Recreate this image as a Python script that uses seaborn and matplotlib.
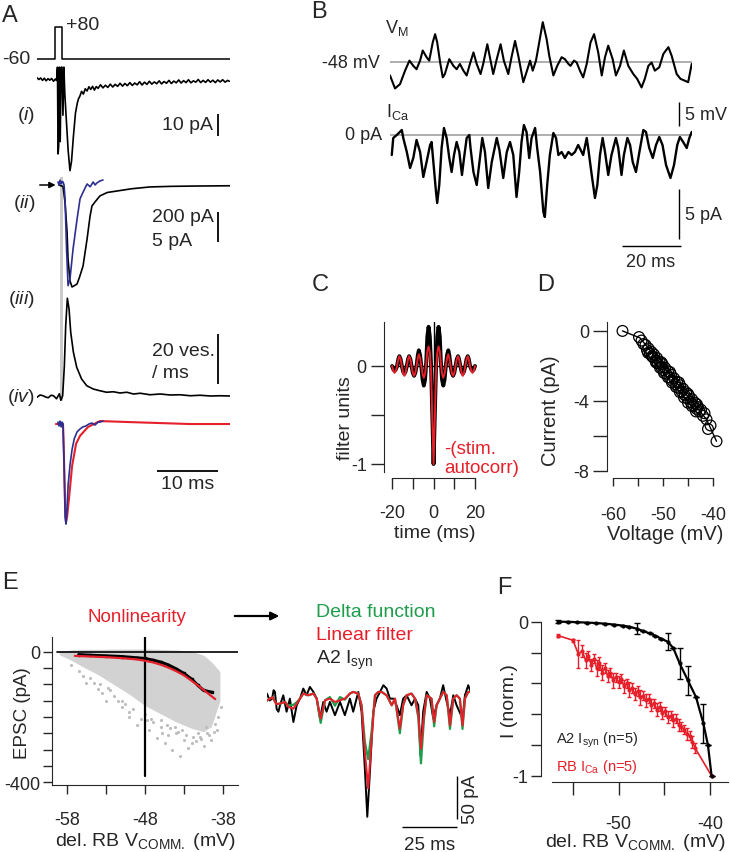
import matplotlib
matplotlib.use("Agg")
import matplotlib.pyplot as plt
import seaborn as sns

# --- Panel A: voltage step and responses (time in ms) ---
stim_t = [0.0, 3.0, 3.0, 4.1, 4.1, 31.6]
stim_mv = [-60, -60, 80, 80, -60, -60]

a1_t = [0.0, 0.3, 0.6, 0.9, 1.2, 1.5, 1.8, 2.1, 2.4, 2.7, 3.0, 3.2,
        3.35, 3.45, 3.55, 3.65, 3.8, 3.95, 4.1, 4.25, 4.4, 4.55,
        4.8, 5.1, 5.4, 5.65, 5.95, 6.3, 6.6, 6.8,
        7.0, 7.3, 7.6, 7.9, 8.2, 8.5, 8.8, 9.1, 9.4, 9.7, 10.0, 10.4, 10.8, 11.2, 11.6,
        12.0, 12.4, 12.8, 13.2, 13.6, 14.0, 14.4, 14.8, 15.2, 15.6, 16.0, 16.4, 16.8,
        17.2, 17.6, 18.0, 18.4, 18.8, 19.2, 19.6, 20.0, 20.4, 20.8, 21.2, 21.6, 22.0,
        22.4, 22.8, 23.2, 23.6, 24.0, 24.4, 24.8, 25.2, 25.6, 26.0, 26.4, 26.8, 27.2,
        27.6, 28.0, 28.4, 28.8, 29.2, 29.6, 30.0, 30.4, 30.8, 31.2, 31.5]
a1_pa = [1.0, 0.2, 0.9, -0.2, 0.8, -0.4, 0.6, -0.1, 0.7, -0.6, 0.4, -0.2,
         5.8, -33.6, -30, 5.8, -28, 5.8, 5.8, -16, 5.8, -6,
         -18, -32, -41.2, -37, -26, -15, -10.5, -8.5,
         -7.5, -5.2, -6.4, -4.0, -5.0, -3.1, -4.3, -2.9, -4.6, -3.0, -3.8, -2.2, -3.6, -2.4, -3.4,
         -1.9, -3.2, -2.0, -2.9, -1.5, -2.8, -1.6, -2.6, -1.2, -2.5, -1.4, -2.2, -0.8,
         -2.3, -1.0, -2.0, -0.6, -1.9, -0.9, -1.7, -0.4, -1.8, -0.7, -1.5, -0.2, -1.6,
         -0.5, -1.3, 0.0, -1.4, -0.3, -1.2, 0.1, -1.3, -0.4, -1.0, 0.2, -1.2, -0.2,
         -1.1, 0.1, -1.0, -0.1, -1.2, 0.0, -0.9, 0.1, -1.0, -0.2, -0.6]

a2_t = [3.6, 4.26, 4.6, 4.92, 5.08, 5.4, 5.74, 6.1, 6.56, 7.0, 7.54, 8.2, 8.69,
        9.0, 9.5, 10.3, 11.5, 13.1, 15.5, 18.5, 22.0, 26.0, 31.6]
a2_pa = [0, -10, -120, -313, -493, -640, -680, -672, -660, -610, -540, -360, -207,
         -140, -113, -73, -50, -40, -25, -13, -9, -7, -5]
a2b_t = [3.44, 3.6, 3.77, 3.95, 4.1, 4.26, 4.43, 4.59, 4.84, 5.08, 5.4, 5.9, 6.56,
         7.05, 7.54, 8.2, 8.7, 9.2, 9.5, 9.8, 10.3, 10.8]
a2b_pa = [0.5, 0.0, 0.8, 0.2, 0.6, 0.5, 0.0, -2.3, -10.7, -16.8, -15.7, -10.7, -5.7,
          -2.3, -1.2, 0.17, -0.3, 0.5, 0.0, 0.33, 0.67, 0.83]

a3_t = [0.0, 0.5, 1.0, 1.4, 1.85, 2.3, 2.7, 3.2, 3.66, 3.9, 4.2, 4.48, 4.7, 4.97,
        5.25, 5.52, 5.96, 6.5, 7.3, 8.15, 9.2, 10.3, 11.4, 12.5, 13.6, 14.7, 15.8,
        16.9, 18.5, 20.2, 21.8, 23.4, 25.1, 26.7, 28.4, 30.0, 31.6]
a3_ves = [-0.5, 0.4, 0.1, -0.4, -0.7, 0.3, 0.1, -1.1, 0.9, -1.7, 0.1, 12.1, 28.1, 39.1,
          34.8, 25.5, 17.5, 11.5, 6.8, 4.1, 2.8, 2.1, 1.5, 1.7, 1.2, 1.5, 0.8,
          1.1, 0.5, 0.8, 0.4, 0.5, 0.1, 0.3, 0.0, 0.1, 0.0]

a4_t = [3.1, 4.26, 4.4, 4.6, 4.75, 4.92, 5.3, 5.74, 6.4, 7.05, 8.36, 10.3, 15.0, 20.0, 25.0, 31.6]
a4_red = [0, 0, -0.3, -0.8, -1.0, -0.95, -0.72, -0.43, -0.2, -0.12, -0.03, 0.03, 0.02, 0.01, 0.0, 0.0]
a4b_t = [3.44, 3.6, 3.77, 3.95, 4.1, 4.26, 4.43, 4.6, 4.75, 4.92, 5.1, 5.4, 5.74, 6.1,
         6.56, 7.05, 7.5, 8.0, 8.5, 9.0, 9.5, 10.0, 10.3, 10.8]
a4_blue = [0.02, -0.02, 0.03, -0.03, 0.02, 0.0, -0.4, -0.95, -1.02, -0.85, -0.62, -0.42,
           -0.26, -0.15, -0.08, -0.05, -0.03, -0.02, 0.0, 0.01, -0.01, 0.02, 0.02, 0.03]

# --- Panel B: membrane voltage and calcium current ---
b_vm_t = [0, 1.7, 3.4, 5.1, 6.6, 7.9, 9.0, 10.2, 11.1, 12.4,
          13.3, 14.5, 15.3, 16.0, 17.0, 17.9, 18.6, 20.1, 21.5, 22.6,
          23.7, 24.9, 26.0, 27.1, 28.3, 29.4, 30.7, 31.6, 33.0, 34.1,
          35.0, 36.2, 37.5, 38.6, 40.1, 41.2, 42.4, 43.5, 45.2, 46.6,
          47.5, 48.4, 49.5, 50.6, 51.8, 53.1, 54.0, 55.4, 56.7, 58.2,
          59.3, 60.5, 61.2, 62.4, 63.3, 64.4, 65.5, 66.7, 68.0, 69.2,
          70.6, 71.8, 72.9, 74.0, 75.5, 76.6, 78.0, 79.3, 80.8, 82.5,
          83.8, 85.3, 86.4, 87.6, 88.7, 89.8, 91.3, 92.7, 94.4, 95.5,
          97.2, 98.5, 100.0, 101.1, 102.3]
b_vm = [-50.8, -53.5, -52.6, -49.8, -47.7, -48.8, -49.5, -47.7, -45.6, -47.0,
        -47.7, -43.9, -42.2, -43.9, -48.1, -51.2, -50.5, -47.4, -48.8, -49.5,
        -48.4, -49.8, -50.8, -48.4, -46.0, -48.4, -50.5, -48.4, -44.3, -47.7,
        -50.5, -47.4, -44.3, -47.7, -50.5, -47.0, -43.6, -46.7, -52.2, -49.5,
        -47.7, -49.8, -47.7, -43.9, -39.7, -43.2, -46.7, -50.8, -48.8, -47.0,
        -47.4, -48.4, -48.8, -47.7, -48.1, -49.8, -51.2, -48.4, -43.9, -42.2,
        -46.0, -50.8, -47.0, -44.6, -47.4, -50.8, -48.8, -45.6, -48.8, -50.5,
        -51.5, -53.3, -51.5, -48.8, -48.1, -49.8, -49.1, -46.3, -44.9, -46.7,
        -50.5, -51.5, -51.9, -52.2, -48.4]
b_ica_t = [0.6, 1.1, 2.3, 4.0, 4.5, 5.7, 6.8, 7.9, 9.0, 10.2,
           11.3, 12.4, 13.6, 14.1, 14.7, 15.6, 16.0, 16.7, 17.5, 18.3,
           19.2, 20.1, 20.9, 21.7, 22.6, 23.5, 24.4, 25.1, 26.0, 26.9,
           27.3, 28.3, 29.4, 30.5, 31.3, 32.2, 33.3, 34.5, 36.2, 37.1,
           38.4, 39.6, 40.7, 41.8, 42.9, 43.8, 44.6, 45.4, 46.3, 47.2,
           48.0, 49.2, 49.9, 50.9, 52.0, 52.5, 53.3, 54.2, 55.4, 56.3,
           57.1, 58.2, 59.3, 60.5, 61.6, 62.7, 63.8, 65.5, 66.7, 67.2,
           68.4, 69.5, 70.3, 71.2, 72.1, 72.9, 74.0, 75.1, 76.6, 77.4,
           78.5, 79.3, 80.5, 81.4, 82.3, 83.4, 84.8, 85.9, 86.8, 87.9,
           89.1, 90.2, 91.3, 92.4, 93.6, 95.1, 96.3, 97.4, 98.3, 99.4,
           100.6, 101.5, 102.3]
b_ica = [-2.0, -0.3, 0.0, 0.5, -0.3, -1.7, -3.3, -2.3, -0.5, -1.7,
         -4.2, -2.7, -1.0, -0.7, -2.7, -5.7, -6.8, -5.0, -1.3, 0.7,
         -0.3, -2.3, -3.7, -2.0, -0.7, -1.7, -4.0, -2.3, -0.3, 0.0,
         -1.3, -3.7, -5.0, -2.3, -0.3, -1.7, -5.3, -2.7, -0.3, -1.5,
         -4.3, -1.7, -0.7, -2.0, -6.2, -3.7, -0.7, 1.0, 0.3, -2.3,
         -0.3, 0.7, -1.3, -3.7, -7.7, -8.2, -5.0, -2.0, 0.2, -0.3,
         -2.0, -1.7, -2.3, -1.7, -2.0, -1.7, -1.0, -2.0, -0.3, -1.3,
         -4.0, -6.3, -5.0, -2.0, -0.3, -1.7, -4.0, -2.0, -0.3, -1.3,
         -4.0, -2.0, -0.3, -1.0, -2.7, -3.7, -1.3, 0.5, 0.3, -1.3,
         -2.3, -1.0, -0.2, -1.0, -3.0, -4.3, -3.0, -1.0, -0.2, -0.7,
         -1.3, -0.3, 0.3]

# --- Panel C: linear filter vs. stimulus autocorrelation ---
c_t = [-20, -19.4, -18.8, -18.2, -17.6, -17.0, -16.5, -15.9, -15.3, -14.7, -14.1, -13.5,
       -12.9, -12.3, -11.8, -11.2, -10.6, -10.0, -9.4, -8.8, -8.2, -7.6, -7.1, -6.5,
       -5.9, -5.3, -4.7, -4.1, -3.5, -3.0, -2.4, -1.8, -1.2, -0.6, 0,
       0.6, 1.2, 1.8, 2.4, 3.0, 3.5, 4.1, 4.7, 5.3, 5.9, 6.5, 7.1, 7.6, 8.2, 8.8, 9.4,
       10.0, 10.6, 11.2, 11.8, 12.3, 12.9, 13.5, 14.1, 14.7, 15.3, 15.9, 16.5, 17.0,
       17.6, 18.2, 18.8, 19.4, 20]
c_filter = [0, -0.035, -0.05, -0.035, 0, 0.07, 0.1, 0.07, 0, -0.056, -0.08, -0.056,
            0, 0.07, 0.1, 0.07, 0, -0.07, -0.1, -0.07, 0, 0.11, 0.16, 0.11,
            0, -0.14, -0.2, -0.14, 0.05, 0.3, 0.4, 0.3, 0.0, -0.5, -1.0,
            -0.5, 0.0, 0.3, 0.4, 0.3, 0.05, -0.14, -0.2, -0.14, 0, 0.11, 0.16, 0.11, 0, -0.07, -0.1,
            -0.07, 0, 0.07, 0.1, 0.07, 0, -0.056, -0.08, -0.056, 0, 0.07, 0.1, 0.07,
            0, -0.035, -0.05, -0.035, 0]
c_autocorr = [0, -0.05, -0.07, -0.05, 0, 0.07, 0.1, 0.07, 0, -0.07, -0.1, -0.07,
              0, 0.07, 0.1, 0.07, 0, -0.07, -0.1, -0.07, 0, 0.08, 0.12, 0.08,
              0, -0.08, -0.12, -0.08, 0.03, 0.15, 0.2, 0.14, -0.05, -0.55, -1.0,
              -0.55, -0.05, 0.14, 0.2, 0.15, 0.03, -0.08, -0.12, -0.08, 0, 0.08, 0.12, 0.08, 0, -0.07, -0.1,
              -0.07, 0, 0.07, 0.1, 0.07, 0, -0.07, -0.1, -0.07, 0, 0.07, 0.1, 0.07,
              0, -0.05, -0.07, -0.05, 0]

# --- Panel D: I-V relation ---
d_v = [-58.1, -54.8, -54.3, -53.9, -53.5, -53.2, -52.9, -52.6, -52.3, -52.0, -51.8, -51.5,
       -51.2, -51.0, -50.7, -50.4, -50.1, -49.9, -49.6, -49.3, -49.0, -48.7, -48.4, -48.1,
       -47.8, -47.5, -47.2, -46.9, -46.6, -46.3, -46.0, -45.7, -45.4, -45.1, -44.8, -44.5,
       -44.2, -43.9, -43.6, -43.3, -43.0, -42.7, -42.4, -42.0, -41.7, -41.3, -41.0, -40.5,
       -39.3, -53.0, -52.2, -51.4, -50.6, -49.8, -49.0, -48.2, -47.4, -46.6, -45.8, -45.0,
       -44.2, -43.4, -50.3, -48.6, -46.8, -45.0, -43.2]
d_i = [0.0, -0.35, -0.55, -0.75, -0.8, -1.1, -1.0, -1.3, -1.2, -1.5, -1.35, -1.7,
       -1.55, -1.85, -1.75, -2.05, -1.9, -2.25, -2.1, -2.45, -2.3, -2.65, -2.5, -2.85,
       -2.7, -3.05, -2.9, -3.25, -3.1, -3.45, -3.3, -3.65, -3.5, -3.85, -3.7, -4.05,
       -3.9, -4.25, -4.1, -4.45, -4.35, -4.6, -4.5, -4.85, -4.7, -5.05, -5.6, -5.4,
       -6.3, -1.25, -1.45, -1.8, -2.1, -2.4, -2.65, -2.95, -3.2, -3.5, -3.8, -4.1,
       -4.3, -4.6, -1.8, -2.35, -2.95, -3.6, -4.2]
d_fit_v = [-58.1, -54.6, -41.3, -39.3]
d_fit_i = [0.0, -0.4, -5.05, -6.3]

# --- Panel E: static nonlinearity and model prediction ---
e_cloud_v = [-59.0, -57.5, -56.0, -54.0, -52.0, -50.0, -48.0, -46.0, -44.0, -42.0, -40.5, -39.5, -38.4]
e_cloud_top = [2, 6, 8, 8, 9, 9, 9, 8, 6, 2, -10, -30, -60]
e_cloud_bot = [-8, -25, -45, -70, -100, -130, -165, -190, -215, -235, -245, -230, -150]
e_out_v = [-55.5, -54, -53, -52, -51, -50, -49, -47.5, -46.5, -45.5, -44.5, -43.5, -42.5, -41.5,
           -40.5, -39.5, -38.8, -47, -45, -43, -41, -50.5, -53.5, -56.5, -44, -42, -40, -48.5,
           -51.5, -46, -57.5, -56, -54.5, -52.5, -49.5, -48, -46, -44.8, -43.8, -42.8, -41.8,
           -40.8, -39.8, -38.6, -38.2, -50, -47.2, -44.2, -41.2, -39.2, -53.8, -52.8, -55, -51,
           -45.8, -43.2, -40.2, -39, -47.8, -45.2]
e_out_pa = [-95, -115, -150, -135, -170, -200, -225, -240, -265, -280, -300, -320, -295, -275,
            -290, -270, -240, -215, -255, -270, -260, -160, -125, -60, -250, -280, -250, -205,
            -150, -230, -40, -75, -95, -118, -175, -190, -210, -235, -245, -255, -262,
            -268, -255, -200, -170, -185, -205, -232, -250, -245, -100, -110, -80, -150,
            -250, -240, -230, -220, -210, -225]
e_nl_v = [-56.5, -55, -53, -51, -49, -48, -47, -46, -45, -44, -43, -42, -41.2, -40.5, -39.4]
e_nl_black = [-8, -10, -12, -14, -18, -20, -25, -31, -40, -52, -66, -84, -103, -118, -124]
e_fit_v = [-57, -55, -53, -51, -49, -48, -47, -46, -45, -44, -43, -42, -41, -40, -39]
e_fit_red = [-12, -14, -16, -19, -23, -27, -32, -39, -48, -59, -72, -89, -107, -126, -145]

e_syn_t = [0.0, 1.2, 2.3, 3.0, 3.6, 4.4, 5.2, 5.9, 7.4, 8.9, 10.4, 12.0, 13.5, 15.0, 16.5,
           18.0, 19.5, 21.1, 22.6, 24.1, 25.6, 27.1, 28.6, 30.9, 33.2, 35.4, 37.7, 39.2,
           41.5, 43.0, 44.5, 45.6, 46.8, 48.3, 49.8, 51.4, 52.9, 54.4, 55.9, 57.4, 58.9,
           60.4, 61.9, 63.5, 65.7, 67.3, 68.8, 69.8, 71.0, 72.6, 74.1, 75.6, 77.1, 78.6,
           80.1, 81.7, 83.2, 84.7, 86.2, 88.9, 90.0, 91.5, 92.3]
e_syn = [-2, -10, -8, 2, 0, -20, -23, -15.5, -3.9, -23, -7.8, -35, -15.5, -7.8, 3.9,
         -3.9, 5.8, 0, -7.8, -31, -11.6, -23, -11.6, -27, -11.6, -27, -7.8, -23,
         0, -23, -89.5, -145, -93, -23, -7.8, 0, 7.8, 3.9, -7.8, -7.8, -15.5,
         -27, -7.8, -3.9, -15.5, -7.8, -15.5, -74, -23, 0, -7.8, -31, -15.5, -7.8,
         7.8, -11.6, -27, -3.9, -15.5, -31, -3.9, 7.8, 2]
e_model_t = [0.0, 2.5, 4.2, 5.9, 8.2, 9.7, 12.0, 13.5, 15.0, 16.5, 18.8, 21.1, 22.6, 24.4,
             26.4, 28.6, 30.9, 33.2, 35.4, 37.7, 39.2, 41.5, 43.0, 44.5, 46.0, 47.6, 49.1,
             50.6, 52.1, 54.4, 56.7, 58.2, 60.4, 61.9, 63.5, 65.7, 67.3, 68.8, 70.0, 71.4,
             72.6, 74.8, 76.0, 77.1, 78.6, 80.1, 81.7, 83.2, 84.7, 86.2, 87.7, 88.9, 90.0,
             91.5, 92.3]
e_linear = [-10, -6, -14, -13.6, -11.6, -17.4, -19.4, -13.6, -7.8, -1.9, -3.9, -1.9, -7.8, -31,
            -9.7, -7.8, -11.6, -9.7, -7.8, -1.9, 0, -1.9, -15.5, -70, -112, -54, -3.9,
            0, 0, -3.9, -15.5, -7.8, -42.6, -15.5, -3.9, -1.9, -7.8, -27, -66, -27,
            -3.9, -7.8, -35, -15.5, -7.8, 0, -3.9, -39, -7.8, -3.9, -7.8, -39, -7.8,
            0, 0]
e_delta = [-10, -6, -14, -13.6, -11.6, -16, -15, -12, -7.8, -1.9, -3.9, -1.9, -7.8, -36,
           -9.7, -6, -16, -6, -9, -1.9, 0, -1.9, -15.5, -58, -78, -45, -3.9,
           0, 0, -3.9, -15.5, -7.8, -48, -15.5, -3.9, -1.9, -7.8, -30, -83, -30,
           -3.9, -7.8, -40, -15.5, -7.8, 0, -3.9, -43, -7.8, -3.9, -7.8, -43, -7.8,
           0, 0]

# --- Panel F: normalized nonlinearities ---
f_syn_v = [-56.6, -55.5, -54.5, -53.5, -52.5, -51.5, -50.5, -49.5, -48.8, -48.0, -47.3,
           -46.6, -46.0, -45.3, -44.6, -44.0, -43.3, -42.4, -41.5, -40.7, -40.2, -39.8]
f_syn = [0.0, 0.0, -0.003, -0.005, -0.008, -0.012, -0.018, -0.025, -0.032, -0.045, -0.06,
         -0.075, -0.09, -0.11, -0.13, -0.17, -0.27, -0.38, -0.49, -0.66, -0.80, -1.0]
f_syn_err = [0.01, 0, 0, 0, 0, 0, 0, 0, 0, 0.035, 0, 0, 0, 0, 0.055, 0, 0.1, 0.095, 0,
             0.125, 0, 0]
f_ca_v = [-56.6, -55.0, -54.4, -54.0, -53.6, -53.3, -53.0, -52.7, -52.4, -52.1, -51.8, -51.5,
          -51.2, -50.9, -50.6, -50.3, -50.0, -49.7, -49.4, -49.1, -48.8, -48.5, -48.2, -47.9,
          -47.6, -47.3, -47.0, -46.7, -46.4, -46.1, -45.8, -45.5, -45.2, -44.9, -44.6, -44.3,
          -44.0, -43.7, -43.4, -43.1, -42.8, -42.5, -42.2, -41.9, -41.6, -39.8]
f_ca = [-0.09, -0.12, -0.21, -0.19, -0.25, -0.22, -0.28, -0.24, -0.30, -0.27, -0.33, -0.30,
        -0.35, -0.33, -0.38, -0.36, -0.39, -0.37, -0.42, -0.40, -0.44, -0.43, -0.47, -0.45,
        -0.49, -0.48, -0.51, -0.50, -0.54, -0.53, -0.57, -0.55, -0.59, -0.58, -0.62, -0.61,
        -0.64, -0.63, -0.67, -0.68, -0.70, -0.73, -0.74, -0.78, -0.82, -1.0]
f_ca_err = [0.01, 0.01, 0.09, 0.04, 0.05, 0.03, 0.04, 0.03, 0.05, 0.04, 0.05, 0.03,
            0.04, 0.03, 0.05, 0.03, 0.04, 0.03, 0.04, 0.03, 0.05, 0.03, 0.04, 0.03,
            0.05, 0.03, 0.04, 0.03, 0.04, 0.03, 0.04, 0.03, 0.04, 0.03, 0.04, 0.03,
            0.04, 0.03, 0.04, 0.03, 0.03, 0.04, 0.03, 0.04, 0.03, 0.0]

RED = "#e5202a"
GREEN = "#1e9e4c"
BLUE = "#2b2f92"
GREY = "#a8a8a8"
CLOUD = "#d2d2d2"
W, H = 730, 853

sns.set_style("ticks")
plt.rcParams["font.family"] = ["Liberation Sans", "DejaVu Sans"]
plt.rcParams["mathtext.fontset"] = "custom"
plt.rcParams["mathtext.rm"] = "Liberation Sans"
plt.rcParams["mathtext.it"] = "Liberation Sans:italic"
plt.rcParams["axes.unicode_minus"] = False
plt.rcParams["xtick.labelsize"] = 13
plt.rcParams["ytick.labelsize"] = 13

fig = plt.figure(figsize=(W / 100, H / 100), dpi=100)


def box(left, top, right, bottom):
    ax = fig.add_axes([left / W, 1 - bottom / H, (right - left) / W, (bottom - top) / H])
    ax.set_facecolor("none")
    return ax


def txt(x, y, s, **kw):
    kw.setdefault("fontsize", 13)
    kw.setdefault("va", "center")
    fig.text(x / W, 1 - y / H, s, **kw)


def trace(ax, t, y, color="k", lw=1.2):
    sns.lineplot(x=t, y=y, ax=ax, color=color, linewidth=lw, estimator=None,
                 sort=False, legend=False)
    ax.set(xlabel="", ylabel="")


def bar(ax, xs, ys, lw=1.3):
    ax.plot(xs, ys, color="k", lw=lw, clip_on=False, solid_capstyle="butt")


def style_axis(ax, xlen, xpad, ylen, ypad):
    sns.despine(ax=ax)
    ax.tick_params(axis="x", direction="out", length=xlen, width=1, pad=xpad)
    ax.tick_params(axis="y", direction="out", length=ylen, width=1, pad=ypad)


# ---------------- A ----------------
band = box(37, 178, 230, 402)
band.set_xlim(0, 31.6)
band.axvspan(3.77, 4.26, color="#cbcbcb", lw=0)
band.axis("off")

ax = box(37, 20, 230, 66)
trace(ax, stim_t, stim_mv, lw=1.1)
ax.set_xlim(0, 31.6)
ax.set_ylim(-86, 115)
ax.axis("off")

ax = box(37, 66, 230, 180)
trace(ax, a1_t, a1_pa, lw=1.2)
ax.set_xlim(0, 31.6)
ax.set_ylim(-45, 6.8)
bar(ax, [29.67, 29.67], [-15.5, -25.5])
ax.axis("off")

ax = box(37, 180, 230, 295)
trace(ax, a2_t, a2_pa, lw=1.2)
ax.set_xlim(0, 31.6)
ax.set_ylim(-727, 40)
bar(ax, [29.67, 29.67], [-180, -380])
ax.annotate("", xy=(3.5, 0), xytext=(0, 0),
            arrowprops=dict(arrowstyle="-|>", color="k", lw=1.1, mutation_scale=9))
ax.axis("off")
ax = box(37, 180, 230, 295)
trace(ax, a2b_t, a2b_pa, color=BLUE, lw=1.2)
ax.set_xlim(0, 31.6)
ax.set_ylim(-18.2, 1.0)
ax.axis("off")

ax = box(37, 295, 230, 405)
trace(ax, a3_t, a3_ves, lw=1.2)
ax.set_xlim(0, 31.6)
ax.set_ylim(-3.2, 40.8)
bar(ax, [29.67, 29.67], [24.8, 4.8])
ax.axis("off")

ax = box(37, 405, 230, 530)
trace(ax, a4_t, a4_red, color=RED, lw=1.5)
trace(ax, a4b_t, a4_blue, color=BLUE, lw=1.2)
ax.set_xlim(0, 31.6)
ax.set_ylim(-1.07, 0.204)
bar(ax, [19.67, 29.67], [-0.48, -0.48])
ax.axis("off")

txt(2, 16, "A", fontsize=17)
txt(30, 60, "-60", ha="right", fontsize=14)
txt(66, 25, "+80", fontsize=14)
for y, s in [(115, "(${\\it i}$)"), (204, "(${\\it ii}$)"), (300, "(${\\it iii}$)"), (397, "(${\\it iv}$)")]:
    txt(35, y, s, ha="right", fontsize=14)
txt(213, 126, "10 pA", ha="right", fontsize=14)
txt(152, 218, "200 pA", fontsize=14)
txt(152, 242, "5 pA", fontsize=14)
txt(152, 352, "20 ves.", fontsize=14)
txt(152, 374, "/ ms", fontsize=14)
txt(188, 485, "10 ms", ha="center", fontsize=14)

# ---------------- B ----------------
ax = box(390, 15, 692, 100)
ax.axhline(-48, color=GREY, lw=1.3, zorder=1)
trace(ax, b_vm_t, b_vm, lw=1.5)
ax.set_xlim(0, 102.4)
ax.set_ylim(-55.7, -38)
bar(ax, [98.0, 98.0], [-56.3, -61.3], lw=1.0)
ax.axis("off")

ax = box(390, 100, 692, 270)
ax.axhline(0, color=GREY, lw=1.3, zorder=1)
trace(ax, b_ica_t, b_ica, lw=1.7)
ax.set_xlim(0, 102.4)
ax.set_ylim(-13.4, 3.6)
bar(ax, [98.0, 98.0], [-5.4, -10.4], lw=1.0)
bar(ax, [78.6, 98.6], [-11.1, -11.1], lw=1.0)
ax.axis("off")

txt(311, 12, "B", fontsize=17)
txt(385, 28, r"V$_\mathregular{M}$")
txt(380, 63, "-48 mV", ha="right")
txt(386, 112, r"I$_\mathregular{Ca}$")
txt(382, 136, "0 pA", ha="right")
txt(685, 115, "5 mV")
txt(685, 215, "5 pA")
txt(651, 263, "20 ms", ha="center")

# ---------------- C ----------------
ax = box(384, 323, 480, 479)
ax.axhline(0, xmin=0.08, xmax=0.92, color="k", lw=1.0)
ax.plot([0, 0], [-1.0, 0.45], color="k", lw=1.0)
trace(ax, c_t, c_filter, lw=2.8)
trace(ax, c_t, c_autocorr, color=RED, lw=1.4)
ax.set_xlim(-23.9, 22.4)
ax.set_ylim(-1.143, 0.449)
style_axis(ax, 8, 11, 9.5, 3)
ax.spines["left"].set_bounds(-1.08, 0.45)
ax.spines["bottom"].set_bounds(-20, 20)
ax.set_yticks([-1, -0.5, 0], ["-1", "", "0"])
ax.set_xticks([-20, -10, 0, 10, 20], ["-20", "", "0", "", "20"])
txt(312, 285, "C", fontsize=17)
txt(346, 418, "filter units", rotation=90, ha="center", fontsize=14)
txt(435, 534, "time (ms)", ha="center", fontsize=14)
txt(444, 450, "-(stim.", color=RED, fontsize=13.5)
txt(444, 469, "autocorr)", color=RED, fontsize=13.5)

# ---------------- D ----------------
ax = box(607, 323, 718, 479)
ax.plot(d_fit_v, d_fit_i, color="k", lw=1.0)
sns.scatterplot(x=d_v, y=d_i, ax=ax, marker="o", s=60, facecolor="none",
                edgecolor="k", linewidth=0.9, clip_on=False, legend=False)
ax.set(xlabel="", ylabel="")
ax.set_xlim(-61.2, -39.0)
ax.set_ylim(-8.4, 0.51)
style_axis(ax, 6, 14, 10, 3)
ax.spines["left"].set_bounds(-8, 0.5)
ax.spines["bottom"].set_bounds(-60, -40)
ax.set_yticks([-8, -6, -4, -2, 0], ["-8", "", "-4", "", "0"])
ax.set_xticks([-60, -55, -50, -45, -40], ["-60", "", "-50", "", "-40"])
txt(537, 285, "D", fontsize=17)
txt(551, 411, "Current (pA)", rotation=90, ha="center", fontsize=14.5)
txt(665, 534, "Voltage (mV)", ha="center", fontsize=14.5)

# ---------------- E ----------------
ax = box(52, 638, 238, 786)
ax.fill_between(e_cloud_v, e_cloud_bot, e_cloud_top, color=CLOUD, lw=0)
sns.scatterplot(x=e_out_v, y=e_out_pa, ax=ax, color="#bdbdbd", s=5, linewidth=0, legend=False)
ax.set(xlabel="", ylabel="")
ax.axhline(0, xmin=0.027, color="k", lw=1.2)
ax.plot([-48, -48], [-381, 46], color="k", lw=1.6)
trace(ax, e_nl_v, e_nl_black, lw=2.2)
ax.plot(e_nl_v, e_nl_black, "s", color="k", ms=2)
trace(ax, e_fit_v, e_fit_red, color=RED, lw=1.6)
ax.set_xlim(-59.92, -36.08)
ax.set_ylim(-409, 46)
style_axis(ax, 6.5, 12, 6.5, 2)
ax.set_yticks(list(range(-400, 1, 50)), ["-400"] + [""] * 7 + ["0"])
ax.set_xticks([-58, -53, -48, -43, -38], ["-58", "", "-48", "", "-38"])
ax.annotate("", xy=(282 / W, 1 - 617 / H), xytext=(232 / W, 1 - 617 / H),
            xycoords="figure fraction",
            arrowprops=dict(arrowstyle="-|>", color="k", lw=1.6, mutation_scale=12))
txt(2, 583, "E", fontsize=17)
txt(137, 617, "Nonlinearity", ha="center", color=RED, fontsize=13.5)
txt(23, 713, "EPSC (pA)", rotation=90, ha="center", fontsize=13.5)
txt(145, 842, r"del. RB V$_\mathregular{COMM.}$ (mV)", ha="center", fontsize=14)

ax = box(267, 680, 470, 835)
trace(ax, e_syn_t, e_syn, lw=1.4)
trace(ax, e_model_t, e_delta, color=GREEN, lw=1.6)
trace(ax, e_model_t, e_linear, color=RED, lw=1.5)
ax.set_xlim(0, 92.3)
ax.set_ylim(-165, 15)
bar(ax, [86.4, 86.4], [-98, -148], lw=1.0)
bar(ax, [61.4, 86.4], [-157, -157], lw=1.0)
ax.axis("off")
txt(316, 613, "Delta function", color=GREEN, fontsize=14)
txt(316, 636, "Linear filter", color=RED, fontsize=14)
txt(316, 660, r"A2 I$_\mathregular{syn}$", fontsize=14)
txt(471, 799, "50 pA", rotation=90, ha="center", fontsize=13.5)
txt(430, 846, "25 ms", ha="center", fontsize=13.5)

# ---------------- F ----------------
ax = box(541, 612, 728, 783)
ax.errorbar(f_ca_v, f_ca, yerr=f_ca_err, color=RED, lw=1.2, marker="o", ms=2,
            elinewidth=1.0, capsize=1.5)
ax.errorbar(f_syn_v, f_syn, yerr=f_syn_err, color="k", lw=1.6, marker="o", ms=2,
            elinewidth=1.0, capsize=2)
ax.set_xlim(-58.5, -38.0)
ax.set_ylim(-1.04, 0.07)
style_axis(ax, 9, 15, 7, 2)
ax.spines["left"].set_bounds(-1.0, 0.0)
ax.spines["bottom"].set_bounds(-57.3, -38.0)
ax.set_yticks([-1, -0.8, -0.6, -0.4, -0.2, 0], ["-1", "", "", "", "", "0"])
ax.set_xticks([-55, -50, -45, -40], ["", "-50", "", "-40"])
txt(497, 588, "F", fontsize=17)
txt(510, 701, "I (norm.)", rotation=90, ha="center", fontsize=14)
txt(635, 843, r"del. RB V$_\mathregular{COMM.}$ (mV)", ha="center", fontsize=14)
txt(556, 740, r"A2 I$_\mathregular{syn}$ (n=5)", fontsize=10.5)
txt(556, 767, r"RB I$_\mathregular{Ca}$ (n=5)", color=RED, fontsize=10.5)

fig.savefig("out.png", dpi=100)
